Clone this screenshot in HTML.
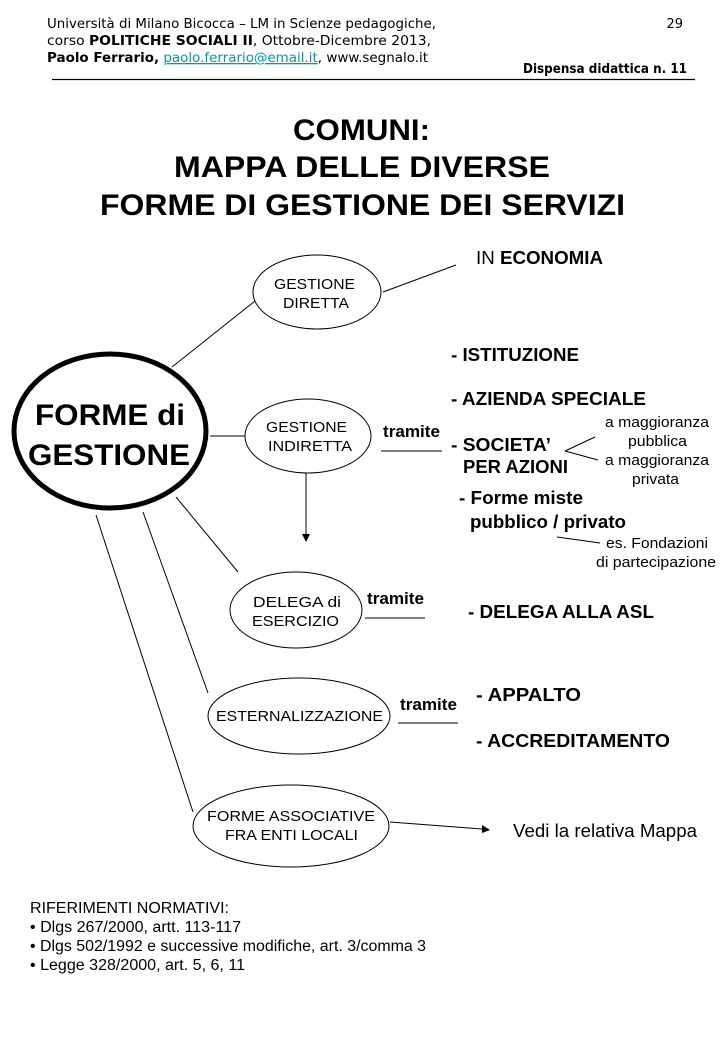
<!DOCTYPE html>
<html><head><meta charset="utf-8"><style>
html,body{margin:0;padding:0;background:#fff}
svg{display:block}
</style></head><body>
<svg width="720" height="1040" viewBox="0 0 720 1040" xmlns="http://www.w3.org/2000/svg">
<g font-family="DejaVu Sans, sans-serif" font-size="13" fill="#000">
<text x="47" y="28" textLength="389" lengthAdjust="spacingAndGlyphs">Università di Milano Bicocca – LM in Scienze pedagogiche,</text>
<text x="47" y="45" textLength="384" lengthAdjust="spacingAndGlyphs">corso <tspan font-weight="bold">POLITICHE SOCIALI II</tspan>, Ottobre-Dicembre 2013,</text>
<text x="47" y="62" textLength="381" lengthAdjust="spacingAndGlyphs"><tspan font-weight="bold">Paolo Ferrario,</tspan> <tspan fill="#0099aa" text-decoration="underline">paolo.ferrario@email.it</tspan>, www.segnalo.it</text>
<text x="683" y="28" text-anchor="end">29</text>
<text x="687" y="73" text-anchor="end" font-weight="bold" textLength="164" lengthAdjust="spacingAndGlyphs">Dispensa didattica n. 11</text>
</g>
<line x1="52" y1="79.5" x2="695" y2="79.5" stroke="#000" stroke-width="1.3"/>
<g font-family="Liberation Sans, Arial, sans-serif" font-weight="bold" font-size="30" lengthAdjust="spacingAndGlyphs">
<text x="293" y="140" textLength="137" lengthAdjust="spacingAndGlyphs">COMUNI:</text>
<text x="174" y="177" textLength="376" lengthAdjust="spacingAndGlyphs">MAPPA DELLE DIVERSE</text>
<text x="100" y="215" textLength="525" lengthAdjust="spacingAndGlyphs">FORME DI GESTIONE DEI SERVIZI</text>
</g>
<g fill="none" stroke="#000" stroke-width="1">
<ellipse cx="110" cy="431" rx="96" ry="77" stroke-width="5"/>
<ellipse cx="317" cy="292" rx="64" ry="37"/>
<ellipse cx="308" cy="436" rx="63" ry="37"/>
<ellipse cx="296" cy="610" rx="66" ry="38"/>
<ellipse cx="299" cy="716" rx="91" ry="38"/>
<ellipse cx="291" cy="826" rx="98" ry="41"/>
<line x1="383" y1="292" x2="456" y2="265"/>
<line x1="172" y1="367" x2="255" y2="301"/>
<line x1="210" y1="436" x2="245" y2="436"/>
<line x1="381" y1="451" x2="442" y2="451"/>
<line x1="306" y1="473" x2="306" y2="534"/>
<line x1="565" y1="451" x2="595" y2="437"/>
<line x1="565" y1="451" x2="598" y2="460"/>
<line x1="557" y1="537" x2="600" y2="543"/>
<line x1="176" y1="497" x2="238" y2="572"/>
<line x1="365" y1="618" x2="425" y2="618"/>
<line x1="143" y1="512" x2="208" y2="693"/>
<line x1="398" y1="723" x2="458" y2="723"/>
<line x1="96" y1="515" x2="193" y2="812"/>
<line x1="390" y1="822" x2="482" y2="829"/>
</g>
<polygon points="302,534 310,534 306,542" fill="#000"/>
<polygon points="482,825 490,830 482,833" fill="#000"/>
<g font-family="Liberation Sans, Arial, sans-serif">
<text x="35" y="425" font-size="30" font-weight="bold" textLength="150" lengthAdjust="spacingAndGlyphs">FORME di</text>
<text x="28" y="465" font-size="30" font-weight="bold" textLength="162" lengthAdjust="spacingAndGlyphs">GESTIONE</text>
<g font-size="15">
<text x="274" y="289" textLength="81" lengthAdjust="spacingAndGlyphs">GESTIONE</text><text x="283" y="308" textLength="66" lengthAdjust="spacingAndGlyphs">DIRETTA</text>
<text x="266" y="432" textLength="81" lengthAdjust="spacingAndGlyphs">GESTIONE</text><text x="268" y="451" textLength="84" lengthAdjust="spacingAndGlyphs">INDIRETTA</text>
<text x="253" y="607" textLength="88" lengthAdjust="spacingAndGlyphs">DELEGA  di</text><text x="252" y="626" textLength="87" lengthAdjust="spacingAndGlyphs">ESERCIZIO</text>
<text x="216" y="721" textLength="167" lengthAdjust="spacingAndGlyphs">ESTERNALIZZAZIONE</text>
<text x="207" y="821" textLength="168" lengthAdjust="spacingAndGlyphs">FORME ASSOCIATIVE</text><text x="225" y="840" textLength="133" lengthAdjust="spacingAndGlyphs">FRA ENTI LOCALI</text>
</g>
<g font-size="18">
<text x="476" y="264" textLength="127" lengthAdjust="spacingAndGlyphs">IN <tspan font-weight="bold">ECONOMIA</tspan></text>
<text x="383" y="437" font-weight="bold" font-size="17" textLength="57" lengthAdjust="spacingAndGlyphs">tramite</text>
<text x="367" y="604" font-weight="bold" font-size="17" textLength="57" lengthAdjust="spacingAndGlyphs">tramite</text>
<text x="400" y="710" font-weight="bold" font-size="17" textLength="57" lengthAdjust="spacingAndGlyphs">tramite</text>
<g font-weight="bold">
<text x="451" y="361" textLength="128" lengthAdjust="spacingAndGlyphs">- ISTITUZIONE</text>
<text x="451" y="405" textLength="195" lengthAdjust="spacingAndGlyphs">- AZIENDA SPECIALE</text>
<text x="451" y="451" textLength="100" lengthAdjust="spacingAndGlyphs">- SOCIETA’</text>
<text x="463" y="473" textLength="105" lengthAdjust="spacingAndGlyphs">PER AZIONI</text>
<text x="459" y="504" textLength="124" lengthAdjust="spacingAndGlyphs">- Forme miste</text>
<text x="470" y="528" textLength="156" lengthAdjust="spacingAndGlyphs">pubblico / privato</text>
<text x="468" y="618" textLength="186" lengthAdjust="spacingAndGlyphs">- DELEGA ALLA ASL</text>
<text x="476" y="701" textLength="105" lengthAdjust="spacingAndGlyphs">-  APPALTO</text>
<text x="476" y="747" textLength="194" lengthAdjust="spacingAndGlyphs">-  ACCREDITAMENTO</text>
</g>
<text x="513" y="837" textLength="184" lengthAdjust="spacingAndGlyphs">Vedi la relativa Mappa</text>
</g>
<g font-size="15">
<text x="605" y="427" textLength="104" lengthAdjust="spacingAndGlyphs">a maggioranza</text>
<text x="628" y="446" textLength="59" lengthAdjust="spacingAndGlyphs">pubblica</text>
<text x="605" y="465" textLength="104" lengthAdjust="spacingAndGlyphs">a maggioranza</text>
<text x="632" y="484" textLength="47" lengthAdjust="spacingAndGlyphs">privata</text>
<text x="606" y="548" textLength="102" lengthAdjust="spacingAndGlyphs">es. Fondazioni</text>
<text x="596" y="567" textLength="120" lengthAdjust="spacingAndGlyphs">di partecipazione</text>
</g>
<g font-size="15.5">
<text x="30" y="913" textLength="199" lengthAdjust="spacingAndGlyphs">RIFERIMENTI NORMATIVI:</text>
<text x="30" y="932" textLength="211" lengthAdjust="spacingAndGlyphs">• Dlgs 267/2000, artt. 113-117</text>
<text x="30" y="951" textLength="396" lengthAdjust="spacingAndGlyphs">• Dlgs 502/1992 e successive modifiche, art. 3/comma 3</text>
<text x="30" y="970" textLength="215" lengthAdjust="spacingAndGlyphs">• Legge 328/2000, art. 5, 6, 11</text>
</g>
</g>
</svg>
</body></html>
